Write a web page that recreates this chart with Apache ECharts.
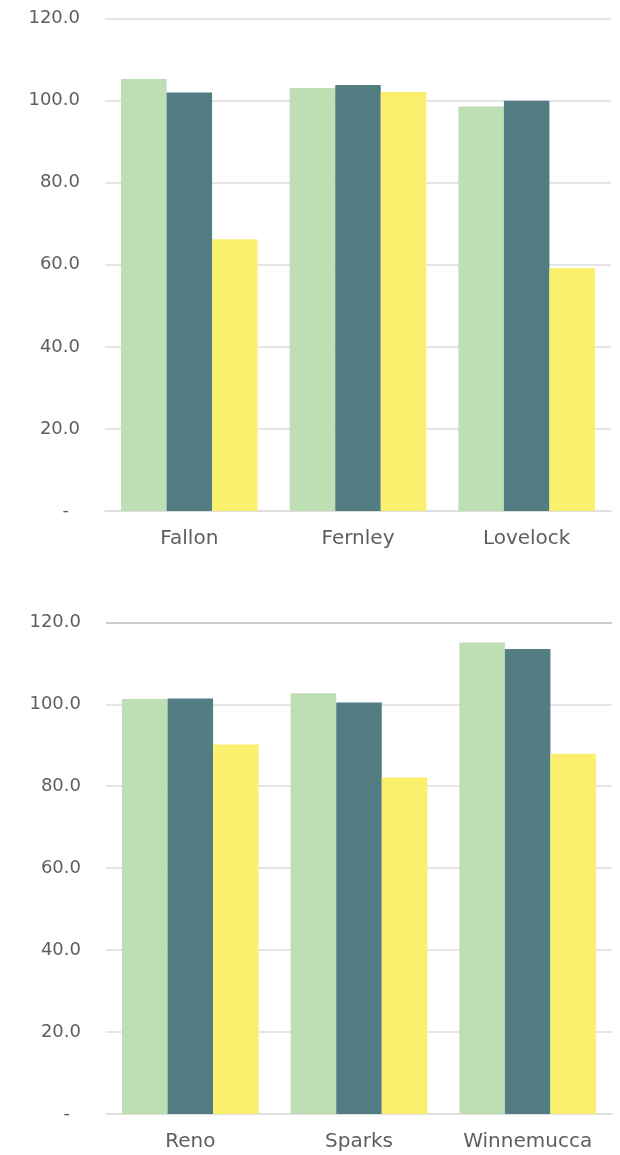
<!DOCTYPE html>
<html>
<head>
<meta charset="utf-8">
<style>
  html, body { margin: 0; padding: 0; background: #ffffff; }
  #chart { width: 620px; height: 1155px; }
</style>
<script src="https://cdn.jsdelivr.net/npm/echarts@6/dist/echarts.min.js"></script>
</head>
<body>
<div id="chart"></div>
<script>
// Cities shown in each panel
const citiesTop = ['Fallon', 'Fernley', 'Lovelock'];
const citiesBottom = ['Reno', 'Sparks', 'Winnemucca'];

// Index values per city, three periods
const periodATop = [105.3, 103.1, 98.6];
const periodBTop = [102.0, 103.8, 100.0];
const periodCTop = [66.2, 102.1, 59.2];

const periodABottom = [101.3, 102.7, 115.1];
const periodBBottom = [101.4, 100.4, 113.5];
const periodCBottom = [90.2, 82.1, 87.9];

// Value axis ticks
const yMin = 0;
const yMax = 120;
const yStep = 20;

const colors = ['#BEDEB4', '#527D82', '#FAF06E'];
const fontFamily = 'DejaVu Sans';
const labelColor = '#5e5e5e';
const gridColor = '#dcdcdc';

const chart = echarts.init(document.getElementById('chart'), null, { renderer: 'canvas' });

function yAxisFor(gridIndex, lineColors) {
  return {
    type: 'value',
    gridIndex: gridIndex,
    min: yMin,
    max: yMax,
    interval: yStep,
    axisLine: { show: false },
    axisTick: { show: false },
    axisLabel: {
      margin: 25,
      color: labelColor,
      fontFamily: fontFamily,
      fontSize: 18,
      formatter: function (v) { return v === 0 ? '{z|-}' : v.toFixed(1); },
      rich: {
        z: { color: labelColor, fontFamily: fontFamily, fontSize: 18, padding: [0, 11, 0, 0] }
      }
    },
    splitLine: { show: true, lineStyle: { color: lineColors, width: 1.5 } }
  };
}

function xAxisFor(gridIndex, cats) {
  return {
    type: 'category',
    gridIndex: gridIndex,
    data: cats,
    axisTick: { show: false },
    axisLine: { show: true, lineStyle: { color: gridColor, width: 1.5 } },
    axisLabel: {
      interval: 0,
      hideOverlap: false,
      margin: 18,
      color: labelColor,
      fontFamily: fontFamily,
      fontSize: 20
    }
  };
}

function barSeries(name, data, idx, axisIndex) {
  return {
    name: name,
    type: 'bar',
    xAxisIndex: axisIndex,
    yAxisIndex: axisIndex,
    data: data,
    barGap: '0%',
    barCategoryGap: '19%',
    itemStyle: { color: colors[idx] },
    silent: true
  };
}

const topLines = [gridColor, gridColor, gridColor, gridColor, gridColor, gridColor, gridColor];
const bottomLines = [gridColor, gridColor, gridColor, gridColor, gridColor, gridColor, '#bdbdbd'];

chart.setOption({
  animation: false,
  backgroundColor: '#ffffff',
  grid: [
    { left: 105, right: 9, top: 18.6, height: 492.4 },
    { left: 106, right: 8, top: 622.3, height: 491.7 }
  ],
  xAxis: [xAxisFor(0, citiesTop), xAxisFor(1, citiesBottom)],
  yAxis: [yAxisFor(0, topLines), yAxisFor(1, bottomLines)],
  series: [
    barSeries('Period A', periodATop, 0, 0),
    barSeries('Period B', periodBTop, 1, 0),
    barSeries('Period C', periodCTop, 2, 0),
    barSeries('Period A', periodABottom, 0, 1),
    barSeries('Period B', periodBBottom, 1, 1),
    barSeries('Period C', periodCBottom, 2, 1)
  ]
});
</script>
</body>
</html>
